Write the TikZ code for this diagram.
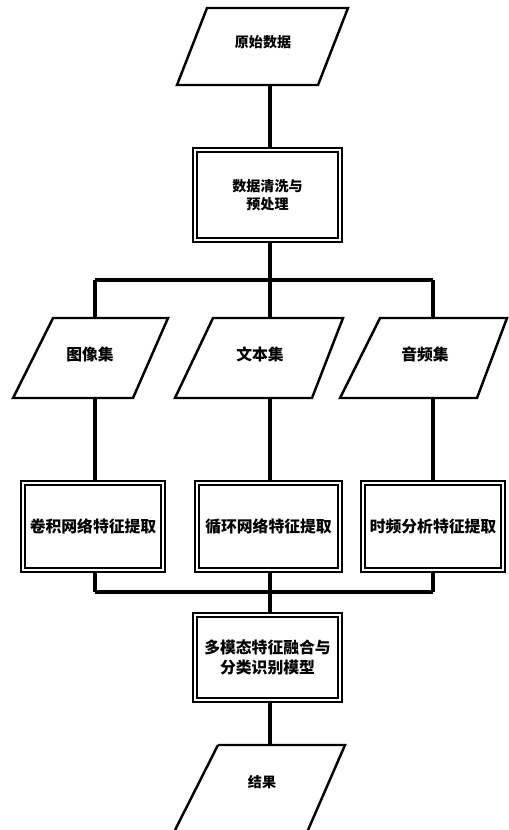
\documentclass[tikz,border=0pt]{standalone}
\usepackage{fontspec}
\newfontfamily\cjk{Noto Sans CJK SC}
\begin{document}
\begin{tikzpicture}[x=0.02cm,y=-0.02cm,
  boxline/.style={draw=black,line width=0.7pt,double=white,double distance=1.6pt},
  para/.style={draw=black,line width=1.4pt},
  conn/.style={draw=black,line width=2.6pt},
  lbl/.style={font=\cjk\bfseries\fontsize{8}{10}\selectfont,align=center,inner sep=0pt},
  lblbig/.style={lbl,font=\cjk\bfseries\fontsize{9}{11}\selectfont}]
\useasboundingbox (0,0) rectangle (509,830);
\clip (0,0) rectangle (509,830);
% top parallelogram
\draw[para] (177,85) -- (318,85) -- (348,8) -- (207,8) -- cycle;
\node[lbl] (t0) at (263,42) {原始数据};
\coordinate (p0b) at (270,85);
% box 2
\node[boxline,minimum width=145*0.02cm,minimum height=90*0.02cm] (b0) at (267.5,195) {};
\node[lbl] at (b0) {数据清洗与\\预处理};
% bus
\coordinate (bus1) at (270,280);
\coordinate (busL) at (95,280);
\coordinate (busR) at (433,280);
% three parallelograms
\draw[para] (13,398) -- (133,398) -- (168,318) -- (53,318) -- cycle;
\draw[para] (175,398) -- (312,398) -- (343,318) -- (213,318) -- cycle;
\draw[para] (340,398) -- (477,398) -- (507,318) -- (380,318) -- cycle;
\node[lblbig] (pa) at (90,354) {图像集};
\node[lblbig] (pb) at (260,354) {文本集};
\node[lblbig] (pc) at (425,354) {音频集};
\coordinate (pat) at (95,318); \coordinate (pab) at (95,398);
\coordinate (pbt) at (270,318); \coordinate (pbb) at (270,398);
\coordinate (pct) at (433,318); \coordinate (pcb) at (433,398);
% three boxes
\node[boxline,minimum width=140*0.02cm,minimum height=87*0.02cm] (ba) at (93,526.5) {};
\node[boxline,minimum width=143*0.02cm,minimum height=87*0.02cm] (bb) at (268.5,526.5) {};
\node[boxline,minimum width=140*0.02cm,minimum height=87*0.02cm] (bc) at (433,526.5) {};
\node[lblbig] at (ba) {卷积网络特征提取};
\node[lblbig] at (bb) {循环网络特征提取};
\node[lblbig] at (bc) {时频分析特征提取};
% lower bus
\coordinate (lbL) at (95,592);
\coordinate (lbR) at (433,592);
\coordinate (lbM) at (270,592);
% fusion box
\node[boxline,minimum width=145*0.02cm,minimum height=85*0.02cm] (bf) at (267.5,657.5) {};
\node[lblbig] at (bf) {多模态特征融合与\\分类识别模型};
% bottom parallelogram
\draw[para] (218,745) -- (345,745) -- (308,830);
\draw[para] (218,745) -- (175,830);
\node[lbl] (out) at (262,782) {结果};
\coordinate (outt) at (270,745);
% connectors
\draw[conn] (p0b) -- (b0.north -| p0b);
\draw[conn] (b0.south -| bus1) -- (bus1);
\draw[conn] (busL) -- (busR);
\draw[conn] (busL) -- (pat);
\draw[conn] (bus1) -- (pbt);
\draw[conn] (busR) -- (pct);
\draw[conn] (pab) -- (ba.north -| pab);
\draw[conn] (pbb) -- (bb.north -| pbb);
\draw[conn] (pcb) -- (bc.north -| pcb);
\draw[conn] (ba.south -| lbL) -- (lbL);
\draw[conn] (bb.south -| lbM) -- (lbM);
\draw[conn] (bc.south -| lbR) -- (lbR);
\draw[conn] (lbL) -- (lbR);
\draw[conn] (lbM) -- (bf.north -| lbM);
\draw[conn] (bf.south -| outt) -- (outt);
\end{tikzpicture}
\end{document}
